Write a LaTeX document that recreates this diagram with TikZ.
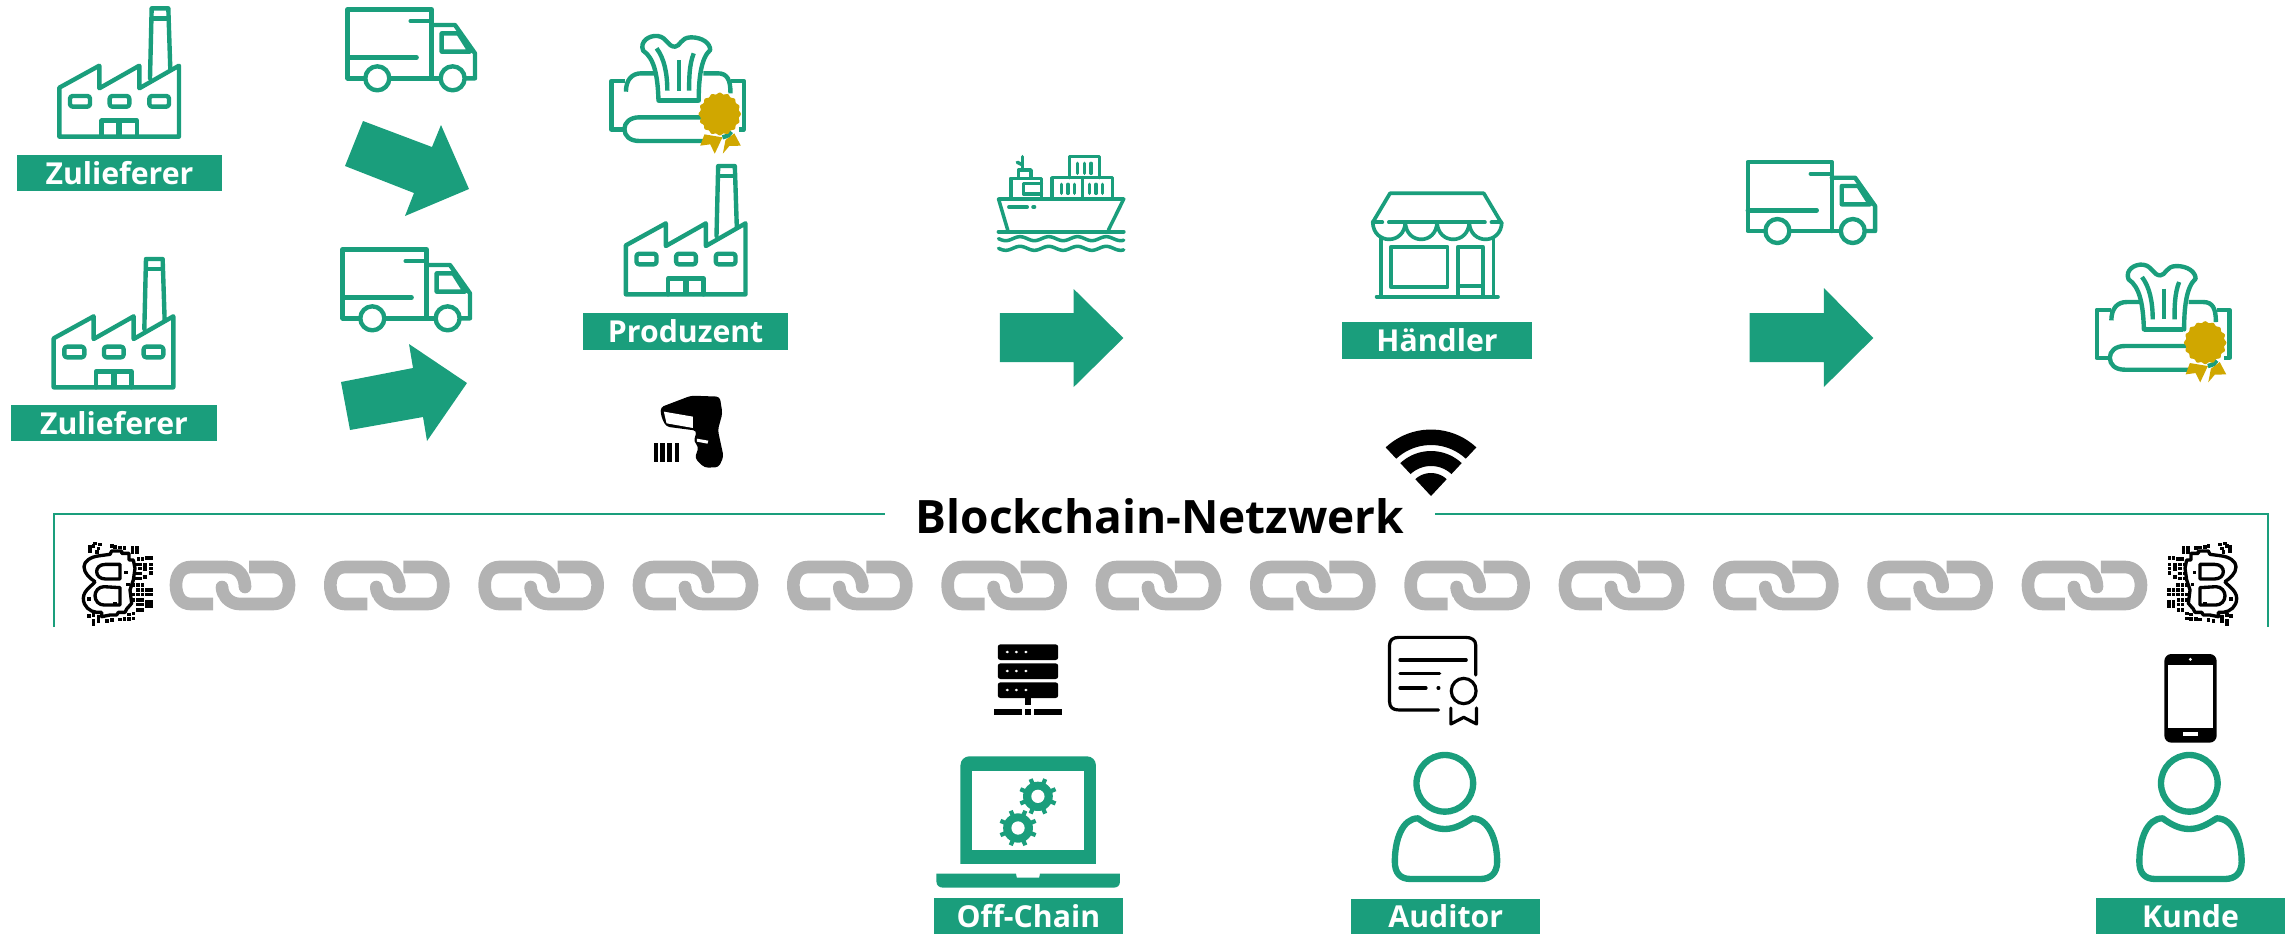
\documentclass[tikz,border=0pt]{standalone}
\usepackage{fontspec}
\setmainfont{Open Sans}
\newcommand\labfont{\bfseries}
\definecolor{gruen}{HTML}{1A9E7C}
\definecolor{gold}{HTML}{D0A700}
\definecolor{grau}{HTML}{B3B3B3}
\tikzset{
 x=0.02cm,y=-0.02cm,
 zc/.style={x=0.0066667cm,y=-0.0066667cm},
 zd/.style={x=0.007654cm,y=-0.0066667cm},
 ze/.style={x=0.008292cm,y=-0.0066667cm},
 ic/.style={draw=gruen,line width=2.5pt,line join=round,line cap=round},
 lab/.style={fill=gruen,text=white,inner sep=0pt,font={\labfont\fontsize{17.2}{20}\selectfont}},
}
\newcommand\Lab[6]{\node[lab,minimum width={(#4-#2)*0.5669pt},minimum height={(#5-#3)*0.5669pt}] (#1) at ({(#2+#4)/2},{(#3+#5)/2}) {#6};}
% ---------- factory (zoom coordinates)
\newcommand\Factory{%
 \draw[ic] (178,410)--(178,263)--(298,197)--(298,265)--(418,197)--(418,265)--(537,197)--(537,410)--cycle;
 \draw[ic] (450,235)--(455,25)--(505,25)--(511,210);
 \draw[ic] (455,55)--(505,55);
 \draw[ic,rounded corners=1.5pt] (210,288) rectangle (270,320);
 \draw[ic,rounded corners=1.5pt] (329,288) rectangle (388,320);
 \draw[ic,rounded corners=1.5pt] (448,288) rectangle (507,320);
 \draw[ic] (305,410)--(305,362)--(411,362)--(411,410);
 \draw[ic,line width=3.4pt,line cap=butt] (358,362)--(358,410);
}
% ---------- truck
\newcommand\Truck{%
 \draw[ic] (1295,235)--(1295,28)--(1043,28)--(1043,235)--(1090,235);
 \draw[ic] (1172,235)--(1318,235);
 \draw[ic] (1398,235)--(1425,235)--(1425,160)--(1365,75)--(1295,75);
 \draw[ic] (1132,235) circle [radius=36];
 \draw[ic] (1358,235) circle [radius=36];
 \draw[ic] (1325,100)--(1375,100)--(1410,155)--(1325,155)--cycle;
 \draw[ic] (1232,63)--(1295,63);
 \draw[ic] (1043,173)--(1250,173);
}
% ---------- tissue box with badge
\newcommand\Tissue{%
 \draw[ic,line cap=butt] (118,243)--(82,243)--(82,388)--(115,388);
 \draw[ic,line cap=butt] (395,243)--(428,243)--(428,388)--(415,388);
 \draw[ic,line cap=butt] (120,275) .. controls (120,240) and (135,220) .. (160,220)--(195,220);
 \draw[ic,line cap=butt] (322,220)--(360,220) .. controls (385,220) and (393,240) .. (393,280);
 \draw[ic,line cap=butt] (205,302)--(308,302);
 \draw[ic] (205,302) .. controls (203,230) and (195,175) .. (165,152)
   .. controls (155,125) and (180,105) .. (203,108)
   .. controls (228,112) and (228,140) .. (248,140)
   .. controls (262,140) and (262,112) .. (290,112)
   .. controls (320,112) and (340,130) .. (340,150)
   .. controls (315,175) and (310,240) .. (310,302);
 \draw[ic,line cap=butt] (200,145) .. controls (220,175) and (228,220) .. (228,272);
 \draw[ic,line cap=butt] (258,180)--(258,272);
 \draw[ic,line cap=butt] (297,160) .. controls (285,195) and (285,235) .. (285,272);
 \draw[ic,line cap=butt] (320,352)--(155,352) .. controls (130,352) and (116,368) .. (116,387)
   .. controls (116,408) and (130,423) .. (155,423)--(330,423);
 \fill[gold] (325,403)--(314,437)--(340,433)--(352,461)--(372,412)--cycle;
 \fill[gold] (380,420)--(373,461)--(390,438)--(420,437)--(403,400)--cycle;
 \draw[ic,line cap=butt] (372,412) .. controls (385,408) and (392,405) .. (395,395);
 \fill[gold] plot[domain=0:360,samples=97,smooth] ({365+(53+2.5*cos(16*\x))*cos(\x)},{342+(62+2.5*cos(16*\x))*sin(\x)}) -- cycle;
}
% ---------- person
\newcommand\Person{%
 \draw[draw=gruen,line width=3.6pt] (628,880) circle [radius=85];
 \draw[draw=gruen,line width=3.6pt,line join=round]
   (548,985) .. controls (575,1005) and (600,1017) .. (628,1017)
   .. controls (658,1017) and (682,1003) .. (710,985)
   .. controls (760,985) and (785,1050) .. (785,1115)
   .. controls (785,1150) and (765,1167) .. (735,1167)
   -- (525,1167) .. controls (495,1167) and (478,1150) .. (478,1115)
   .. controls (478,1050) and (500,985) .. (548,985) -- cycle;
}
% ---------- chain link
\newcommand\Link{%
 \draw[draw=grau,line width=7.2pt,line join=round]
   (53,27) .. controls (53,35) and (60,44) .. (71,44) -- (104,44)
   .. controls (114,44) and (120,36) .. (120,25) .. controls (120,15) and (114,7) .. (104,7) -- (80,7);
 \fill[grau] (53,27) circle [radius=6.3];
 \draw[draw=white,line width=8.4pt] (76,27) .. controls (76,17) and (70,7) .. (58,7);
 \draw[draw=grau,line width=7.2pt,line join=round]
   (76,27) .. controls (76,17) and (70,7) .. (58,7) -- (22,7)
   .. controls (12,7) and (7,15) .. (7,25) .. controls (7,36) and (12,44) .. (22,44) -- (44,44);
 \fill[grau] (76,27) circle [radius=6.3];
 \fill[white] (46,37.5)--(50,37.5)--(53,51)--(49,51)--cycle;
}
% ---------- bitcoin
\newcommand\Coin{%
 \draw[line width=1.9pt,line join=round] (95,75)--(108,75)--(108,55)--(130,55)--(130,48)--(160,48)--(165,58)--(195,62)
   .. controls (225,65) and (243,80) .. (243,95) .. controls (243,115) and (225,130) .. (210,140)
   .. controls (215,150) and (245,165) .. (245,190) .. controls (245,215) and (225,230) .. (205,232)
   --(190,232)--(190,245)--(165,240)--(145,240)--(140,232)--(120,232)--(115,222)--(100,205)--(105,165)--(95,135)--(90,100)--cycle;
 \draw[line width=1.9pt,line join=round] (135,88)--(178,88) .. controls (198,88) and (205,100) .. (205,110) .. controls (205,122) and (195,132) .. (178,132)--(135,132)--cycle;
 \draw[line width=1.9pt,line join=round] (135,158)--(183,155) .. controls (200,155) and (210,170) .. (210,182) .. controls (210,198) and (198,210) .. (183,210)--(135,210)--cycle;
 \foreach \a/\b in {195/28,210/25,215/32,200/40,225/35,205/50,225/48,122/38,135/37,150/35,160/33,85/38,98/38,85/50,98/50,
   43/68,55/68,68/72,80/72,43/88,43/100,43/113,60/90,60/102,75/88,75/100,88/88,75/115,88/115,60/125,75/130,88/130,
   42/165,55/165,42/178,55/178,68/165,82/165,68/178,82/178,95/178,68/150,82/150,95/150,55/200,42/200,42/212,55/212,
   70/195,82/195,95/195,70/208,82/208,70/225,82/225,95/235,108/238,95/250,108/252,122/252,135/253,160/255,175/258,
   200/245,215/240,228/242,200/258,215/258,215/268,118/112,112/148,228/192,150/205}
   {\fill[black] (\a-5.5,\b-5.5) rectangle (\a+5.5,\b+5.5);}
}
% ---------- gear
\newcommand\Gear[2]{%
 \fill[gruen] (#1,#2) ellipse [x radius=36,y radius=44];
 \foreach \g in {22.5,67.5,...,337.5}
   {\draw[draw=gruen,line width=2.4pt] ({#1+30*cos(\g)},{#2+36*sin(\g)})--({#1+46*cos(\g)},{#2+56*sin(\g)});}
 \fill[white] (#1,#2) ellipse [x radius=16,y radius=20];
}
\begin{document}
\begin{tikzpicture}
\useasboundingbox (0,0) rectangle (2285,934);
% ---- frame
\coordinate (fa) at (54,627);\coordinate (fb) at (54,514);\coordinate (fc) at (885,514);
\coordinate (fd) at (1435,514);\coordinate (fe) at (2268,514);\coordinate (ff) at (2268,627);
\draw[draw=gruen,line width=1.3pt] (fa)--(fb)--(fc);
\draw[draw=gruen,line width=1.3pt] (fd)--(fe)--(ff);
\node[inner sep=0pt,font={\labfont\fontsize{26.2}{30}\selectfont}] (bcn) at (1160,516) {Blockchain-Netzwerk};
% ---- factories
\begin{scope}[zc]\Factory\end{scope}
\begin{scope}[shift={(-5.67,250.67)},zc]\Factory\end{scope}
\begin{scope}[shift={(566.5,157.7)},zc]\Factory\end{scope}
% ---- trucks
\begin{scope}[zc]\Truck\end{scope}
\begin{scope}[shift={(-5,240)},zc]\Truck\end{scope}
\begin{scope}[shift={(1400.1,152.7)},zc]\Truck\end{scope}
% ---- arrows
\fill[gruen] (363,121)--(432,147)--(441,125)--(469,189)--(405,216)--(414,193)--(345,166)--cycle;
\fill[gruen] (341,382)--(413,368)--(409,344)--(467,383)--(427,441)--(423,417)--(350,430)--cycle;
\fill[gruen] (999.8,313)--(1073.7,313)--(1073.7,289)--(1123.4,338)--(1073.7,387)--(1073.7,362)--(999.8,362)--cycle;
\fill[gruen] (1749.7,313)--(1823.9,313)--(1823.9,288)--(1873.3,338)--(1823.9,387)--(1823.9,362)--(1749.7,362)--cycle;
% ---- tissues
\begin{scope}[shift={(580,0)},zd]\Tissue\end{scope}
\begin{scope}[shift={(2065.4,228.7)},zd]\Tissue\end{scope}
% ---- scanner
\begin{scope}[shift={(580,0)},zd]
 \fill[black,rounded corners=2pt] (210,1222)--(290,1187)--(365,1190)--(372,1240)--(360,1290)--(375,1370)--(362,1402)--(325,1403)--(300,1375)--(310,1340)--(297,1325)--(305,1292)--(225,1280)--(212,1250)--cycle;
 \fill[white] (219,1235)--(295,1250)--(295,1284)--(226,1270)--cycle;
 \fill[white] (305,1316)--(335,1322)--(333,1331)--(305,1325)--cycle;
 \fill[black] (192,1329) rectangle (203,1385);
 \fill[black] (210,1329) rectangle (221,1385);
 \fill[black] (228,1329) rectangle (239,1385);
 \fill[black] (248,1329) rectangle (259,1385);
\end{scope}
% ---- ship
\begin{scope}[shift={(580,0)},zd]
 \draw[ic,line width=2pt] (1117,690)--(1093,597)--(1420,597)--(1380,690);
 \draw[ic,line width=2.2pt] (1093,695)--(1420,695);
 \draw[ic,line width=2pt] plot[domain=1093:1420,samples=70,smooth] (\x,{716+6*sin((\x-1093)*4.8)});
 \draw[ic,line width=2pt] plot[domain=1093:1420,samples=70,smooth] (\x,{745+6*sin((\x-1093)*4.8)});
 \draw[ic,line width=2pt] (1125,595)--(1125,535)--(1205,535)--(1205,595);
 \draw[ic,line width=2pt] (1145,530)--(1145,510)--(1178,510)--(1178,530);
 \draw[ic,line width=2pt] (1205,550)--(1158,550)--(1158,582)--(1205,582);
 \draw[ic,line width=2pt] (1155,470)--(1155,508);
 \draw[ic,line width=2pt] (1142,487)--(1155,494);
 \draw[ic,line width=2pt] (1233,595)--(1233,533)--(1390,533)--(1390,595);
 \draw[ic,line width=2pt] (1312,533)--(1312,595);
 \draw[ic,line width=2pt] (1278,533)--(1278,470)--(1357,470)--(1357,533);
 \foreach \q in {1257,1274,1291,1331,1348,1365} {\draw[ic,line width=2pt] (\q,553)--(\q,580);}
 \foreach \q in {1299,1317,1335} {\draw[ic,line width=2pt] (\q,490)--(\q,520);}
 \draw[ic,line width=2pt] (1120,621)--(1168,621);
 \draw[ic,line width=2pt] (1183,621)--(1187,621);
\end{scope}
% ---- shop
\begin{scope}[shift={(1300,150)},zd]
 \draw[ic,line width=2.1pt] (190,217)--(235,130)--(480,130)--(525,217);
 \draw[ic,line width=2.1pt] (232,217)--(483,217);
 \draw[ic,line width=2.1pt] (190,217)--(215,217);
 \draw[ic,line width=2.1pt] (500,217)--(525,217);
 \foreach \p/\r in {190/275,275/358,358/442,442/527}
  {\draw[ic,line width=2.1pt] (\p,217) .. controls (\p+2,285) and (\r-2,285) .. (\r,217);}
 \draw[ic,line width=2.1pt] (212,262)--(212,440);
 \draw[ic,line width=2.1pt] (505,262)--(505,440);
 \draw[ic,line width=2.1pt] (200,440)--(517,440);
 \draw[ic,line width=2.1pt] (238,290) rectangle (385,412);
 \draw[ic,line width=2.1pt] (412,440)--(412,290)--(477,290)--(477,440);
 \draw[ic,line width=2.1pt] (412,408)--(477,408);
\end{scope}
% ---- wifi
\fill[black] plot[domain=47:133,samples=20] ({1431+66.5*cos(\x)},{496-66.5*sin(\x)}) -- plot[domain=133:47,samples=20] ({1431+51*cos(\x)},{496-51*sin(\x)}) -- cycle;
\fill[black] plot[domain=47:133,samples=20] ({1431+45*cos(\x)},{496-45*sin(\x)}) -- plot[domain=133:47,samples=20] ({1431+30*cos(\x)},{496-30*sin(\x)}) -- cycle;
\fill[black] plot[domain=47:133,samples=20] ({1431+23*cos(\x)},{496-23*sin(\x)}) -- (1431,496) -- cycle;
% ---- chain
\foreach \i in {0,...,12} {\begin{scope}[shift={({169+154.33*\i},560)}]\Link\end{scope}}
\begin{scope}[shift={(2155,535)},zc]\Coin\end{scope}
\begin{scope}[shift={(165,535)},xscale=-1,zc]\Coin\end{scope}
% ---- server, laptop, certificate
\begin{scope}[shift={(900,620)},ze]
 \foreach \t in {73,130,187} {
  \fill[black,rounded corners=1.5pt] (236,\t) rectangle (382,\t+47);
  \foreach \d in {259,281,304} {\fill[white] (\d,\t+23) circle [radius=4];}
 }
 \fill[black] (302,233) rectangle (316,256);
 \fill[black] (227,267) rectangle (295,285);
 \fill[black] (302,267) rectangle (316,285);
 \fill[black] (323,267) rectangle (391,285);
 % laptop
 \fill[gruen,rounded corners=5pt] (146,760)--(146,409)--(473,409)--(473,760)--cycle;
 \fill[white] (140,733) rectangle (480,770);
 \fill[white] (174,452) rectangle (444,690);
 \fill[gruen] (88,761)--(280,761)--(282,773)--(336,773)--(338,761)--(531,761)--(531,785) .. controls (531,797) and (525,803) .. (515,803)--(105,803) .. controls (95,803) and (88,797) .. (88,785)--cycle;
 \Gear{333}{529}
 \Gear{285}{624}
 % certificate
 \draw[line width=1.8pt,line cap=round,line join=round] (1390,165)--(1390,75) .. controls (1390,60) and (1380,52) .. (1365,52)--(1205,52) .. controls (1190,52) and (1182,60) .. (1182,75)--(1182,245) .. controls (1182,262) and (1190,270) .. (1205,270)--(1300,270);
 \draw[line width=1.8pt,line cap=round] (1207,120)--(1367,120);
 \draw[line width=1.8pt,line cap=round] (1207,161)--(1303,161);
 \draw[line width=1.8pt,line cap=round] (1207,204)--(1270,204);
 \draw[line width=1.8pt,line cap=round] (1299,204)--(1301,204);
 \draw[line width=1.8pt] (1361,213) ellipse [x radius=30,y radius=38];
 \draw[line width=1.8pt,line cap=round,line join=round] (1330,264)--(1330,312)--(1361,292)--(1392,312)--(1392,264);
\end{scope}
% ---- persons
\begin{scope}[shift={(1980,490)},zc]\Person\end{scope}
\begin{scope}[shift={(1235.5,490)},zc]\Person\end{scope}
% ---- phone
\begin{scope}[shift={(1980,490)},zc]
 \fill[black,rounded corners=4pt] (553,492) rectangle (710,758);
 \fill[white] (565,525) rectangle (698,715);
 \fill[white] (631,508) circle [radius=5];
 \fill[white] (609,727) rectangle (654,737);
\end{scope}
% ---- labels
\Lab{z1}{17}{155}{222}{191}{Zulieferer}
\Lab{z2}{11}{405}{217}{441}{Zulieferer}
\Lab{prod}{582.7}{313}{788.6}{350}{Produzent}
\Lab{hand}{1342}{322}{1532}{359}{Händler}
\Lab{off}{933.6}{898}{1123}{934}{Off-Chain}
\Lab{aud}{1351}{899}{1540.5}{934}{Auditor}
\Lab{kun}{2096}{898}{2285}{934}{Kunde}
\end{tikzpicture}
\end{document}
